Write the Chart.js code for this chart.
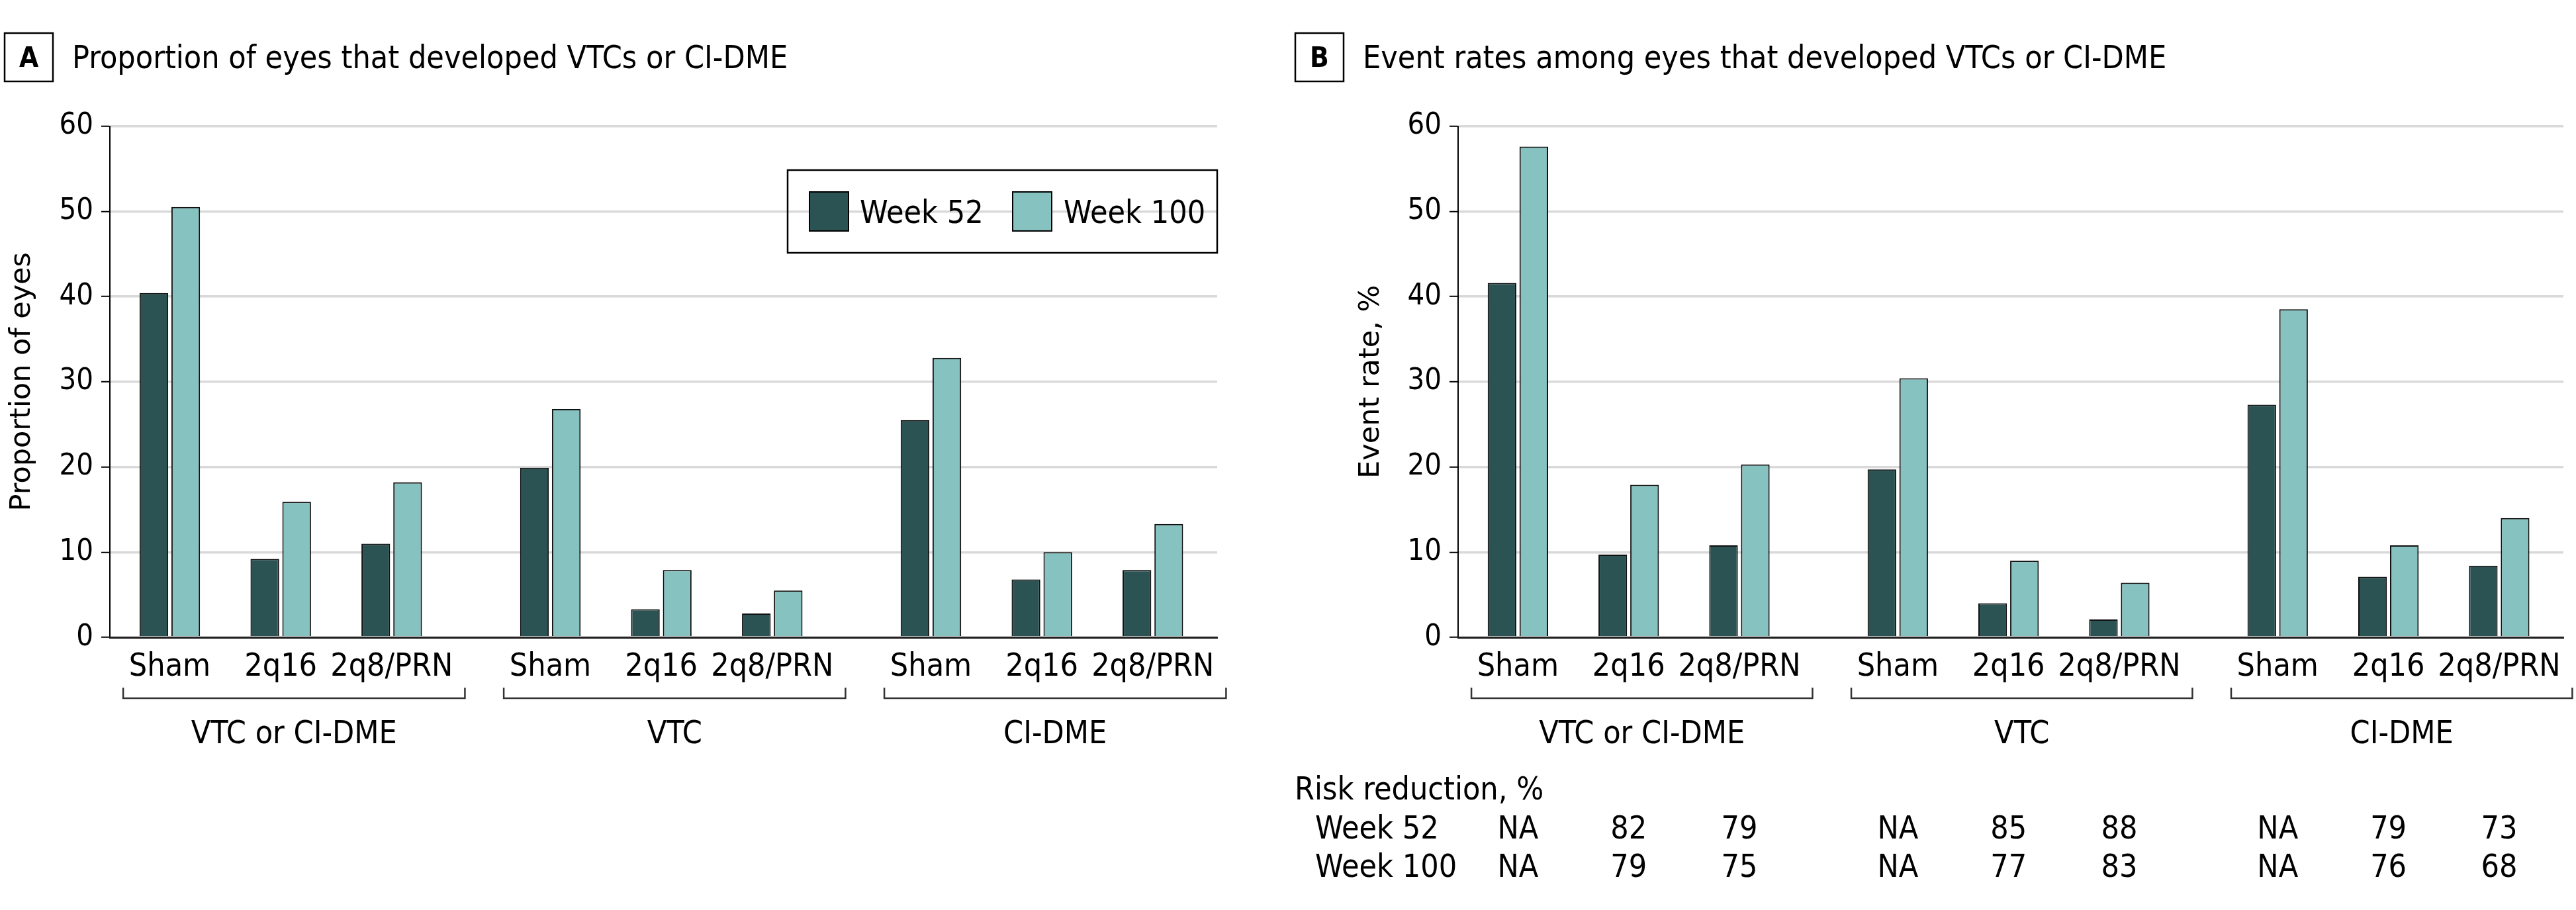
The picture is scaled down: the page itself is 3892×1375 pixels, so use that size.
<!DOCTYPE html>
<html>
<head>
<meta charset="utf-8">
<script src="https://cdn.jsdelivr.net/npm/chart.js@4.4.1/dist/chart.umd.min.js"></script>
<style>
  html, body { margin: 0; padding: 0; background: #fff; }
  body { width: 3892px; height: 1375px; position: relative; overflow: hidden; }
  canvas { position: absolute; top: 0; }
  #chartA { left: 0; }
  #chartB { left: 1950px; }
</style>
</head>
<body>
<canvas id="chartA" width="1950" height="1375"></canvas>
<canvas id="chartB" width="1942" height="1375"></canvas>
<script>
"use strict";

// data
const treatments = ['Sham', '2q16', '2q8/PRN'];
const groups = ['VTC or CI-DME', 'VTC', 'CI-DME'];
const seriesNames = ['Week 52', 'Week 100'];

// A: proportion of eyes
const propWeek52 = [40.4, 9.2, 11.0, 19.9, 3.3, 2.8, 25.5, 6.8, 7.9];
const propWeek100 = [50.5, 15.9, 18.2, 26.8, 7.9, 5.5, 32.8, 10.0, 13.3];

// B: event rates
const rateWeek52 = [41.6, 9.7, 10.8, 19.7, 4.0, 2.1, 27.3, 7.1, 8.4];
const rateWeek100 = [57.6, 17.9, 20.3, 30.4, 9.0, 6.4, 38.5, 10.8, 14.0];

// risk reduction table under B
const riskRowNames = ['Week 52', 'Week 100'];
const riskWeek52 = ['NA', '82', '79', 'NA', '85', '88', 'NA', '79', '73'];
const riskWeek100 = ['NA', '79', '75', 'NA', '77', '83', 'NA', '76', '68'];

const yMax = 60;
const yStep = 10;

const FONT = "'DejaVu Sans Condensed', 'Liberation Sans Narrow', 'Liberation Sans', sans-serif";
const DARK = '#2b5353';
const LIGHT = '#86c2c0';
const GROUP_STEP = 3.43; // slot units between first bars of two groups

Chart.defaults.font.family = FONT;
Chart.defaults.color = '#000';

const xPos = [];
groups.forEach((g, gi) => treatments.forEach((t, ti) => xPos.push(gi * GROUP_STEP + ti)));

function toPoints(vals) {
    return vals.map((v, i) => ({ x: xPos[i], y: v }));
}

// titles, brackets, legend box and the risk table
const panelDecor = {
    id: 'panelDecor',
    afterDraw(chart, args, opts) {
        const ctx = chart.ctx;
        const area = chart.chartArea;
        const xs = chart.scales.x;
        ctx.save();
        ctx.fillStyle = '#000';
        ctx.strokeStyle = '#000';

        // panel letter + title
        ctx.lineWidth = 2.5;
        ctx.strokeRect(7, 50, 73, 73);
        ctx.font = 'bold 42px ' + FONT;
        ctx.textAlign = 'center';
        ctx.textBaseline = 'alphabetic';
        ctx.fillText(opts.letter, 43.5, 101);
        ctx.font = '48px ' + FONT;
        ctx.textAlign = 'left';
        ctx.fillText(opts.title, 109, 103);

        // group brackets
        ctx.strokeStyle = '#333';
        ctx.lineWidth = 2.5;
        ctx.textAlign = 'center';
        groups.forEach((g, gi) => {
            const base = gi * GROUP_STEP;
            const x1 = xs.getPixelForValue(base - 0.42);
            const x2 = xs.getPixelForValue(base + 2.66);
            ctx.beginPath();
            ctx.moveTo(x1, area.bottom + 76);
            ctx.lineTo(x1, area.bottom + 92);
            ctx.lineTo(x2, area.bottom + 92);
            ctx.lineTo(x2, area.bottom + 76);
            ctx.stroke();
            ctx.fillText(g, (x1 + x2) / 2, area.bottom + 160);
        });

        // legend box
        if (opts.legend) {
            const bw = 649, bh = 125;
            const bx = area.right - bw;
            const by = area.top + 66.5;
            ctx.strokeStyle = '#000';
            ctx.lineWidth = 2.5;
            ctx.strokeRect(bx, by, bw, bh);
            const offs = [[33, 109], [340, 417]];
            chart.data.datasets.forEach((ds, i) => {
                ctx.fillStyle = ds.backgroundColor;
                ctx.fillRect(bx + offs[i][0], by + 33, 59, 59);
                ctx.lineWidth = 2;
                ctx.strokeRect(bx + offs[i][0], by + 33, 59, 59);
                ctx.fillStyle = '#000';
                ctx.textAlign = 'left';
                ctx.fillText(ds.label, bx + offs[i][1], by + 80);
            });
        }

        // risk reduction table
        if (opts.risk) {
            ctx.fillStyle = '#000';
            ctx.textAlign = 'left';
            ctx.fillText('Risk reduction, %', 6, area.bottom + 245);
            const rows = [riskWeek52, riskWeek100];
            rows.forEach((row, ri) => {
                const y = area.bottom + 304 + ri * 58;
                ctx.textAlign = 'left';
                ctx.fillText(riskRowNames[ri], 37, y);
                ctx.textAlign = 'center';
                row.forEach((v, i) => ctx.fillText(v, xs.getPixelForValue(xPos[i]), y));
            });
        }
        ctx.restore();
    }
};

function makeChart(id, cfg) {
    const ctx = document.getElementById(id).getContext('2d');
    return new Chart(ctx, {
        type: 'bar',
        data: {
            datasets: [
                {
                    label: seriesNames[0],
                    data: toPoints(cfg.w52),
                    backgroundColor: DARK,
                    borderColor: '#111',
                    borderWidth: 2,
                    categoryPercentage: 0.574,
                    barPercentage: 0.9
                },
                {
                    label: seriesNames[1],
                    data: toPoints(cfg.w100),
                    backgroundColor: LIGHT,
                    borderColor: '#111',
                    borderWidth: 2,
                    categoryPercentage: 0.574,
                    barPercentage: 0.9
                }
            ]
        },
        options: {
            responsive: false,
            animation: false,
            layout: {
                padding: { left: cfg.padLeft, right: cfg.padRight, top: 190.5, bottom: 0 }
            },
            plugins: {
                legend: { display: false },
                tooltip: { enabled: false },
                panelDecor: { letter: cfg.letter, title: cfg.title, legend: cfg.legend, risk: cfg.risk }
            },
            scales: {
                x: {
                    type: 'linear',
                    min: -0.54,
                    max: 9.44,
                    offset: false,
                    afterBuildTicks: (s) => { s.ticks = xPos.map(v => ({ value: v })); },
                    afterFit: (s) => { s.height = 412; },
                    ticks: {
                        autoSkip: false,
                        maxRotation: 0,
                        padding: 17,
                        font: { size: 48 },
                        callback: (v, i) => treatments[i % treatments.length]
                    },
                    grid: { display: false, drawTicks: false },
                    border: { color: '#222', width: 3, z: 1 }
                },
                y: {
                    min: 0,
                    max: yMax,
                    afterFit: (s) => { s.width = cfg.axisWidth; },
                    ticks: { stepSize: yStep, padding: 12, font: { size: 45 } },
                    grid: { color: '#d9d9d9', lineWidth: 3.5, tickColor: '#000', tickLength: 13, tickWidth: 2 },
                    border: { color: '#000', width: 2 },
                    title: {
                        display: true,
                        text: cfg.yTitle,
                        font: { family: 'DejaVu Sans', size: 43 },
                        padding: { top: 8, bottom: 0 }
                    }
                }
            }
        },
        plugins: [panelDecor]
    });
}

makeChart('chartA', {
    w52: propWeek52, w100: propWeek100,
    letter: 'A', title: 'Proportion of eyes that developed VTCs or CI-DME',
    yTitle: 'Proportion of eyes',
    padLeft: 0, padRight: 111, axisWidth: 166,
    legend: true, risk: false
});

makeChart('chartB', {
    w52: rateWeek52, w100: rateWeek100,
    letter: 'B', title: 'Event rates among eyes that developed VTCs or CI-DME',
    yTitle: 'Event rate, %',
    padLeft: 88, padRight: 19, axisWidth: 165,
    legend: false, risk: true
});
</script>
</body>
</html>
